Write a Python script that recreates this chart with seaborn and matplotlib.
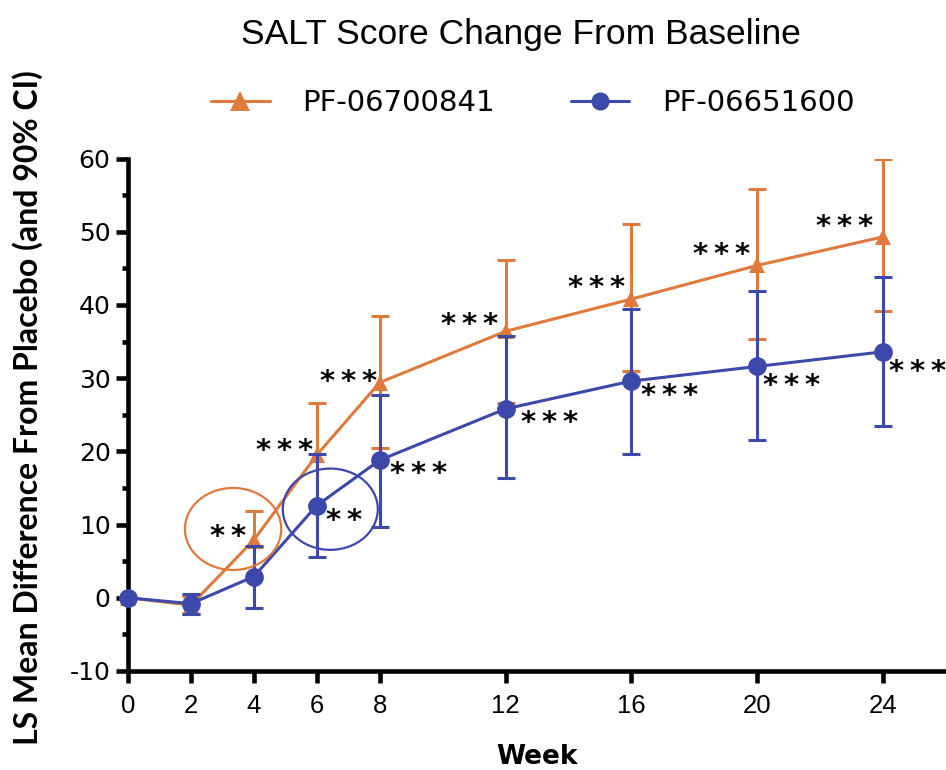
import numpy as np
import pandas as pd
import matplotlib
matplotlib.use("Agg")
import matplotlib.pyplot as plt
import seaborn as sns
from matplotlib.patches import Ellipse
from matplotlib.lines import Line2D
from matplotlib.ticker import MultipleLocator
from matplotlib import font_manager as fm

# ---------------- data ----------------
weeks = [0, 2, 4, 6, 8, 12, 16, 20, 24]
series_names = ["PF-06700841", "PF-06651600"]

pf841_mean = [0, -1.0, 7.9, 19.5, 29.4, 36.4, 40.8, 45.4, 49.3]
pf841_upper = [np.nan, 0.3, 11.9, 26.6, 38.5, 46.2, 51.1, 55.9, 59.9]
pf841_lower = [np.nan, -2.2, 7.0, 12.5, 20.4, 26.6, 31.0, 35.3, 39.2]

pf600_mean = [0, -0.8, 2.9, 12.6, 18.8, 25.8, 29.6, 31.6, 33.6]
pf600_upper = [np.nan, 0.5, 7.1, 19.6, 27.7, 35.7, 39.5, 41.9, 43.8]
pf600_lower = [np.nan, -2.2, -1.4, 5.6, 9.7, 16.3, 19.7, 21.6, 23.4]

pf841_sig = ["", "", "**", "***", "***", "***", "***", "***", "***"]
pf600_sig = ["", "", "", "**", "***", "***", "***", "***", "***"]

y_ticks = [-10, 0, 10, 20, 30, 40, 50, 60]
x_ticks = weeks

title = "SALT Score Change From Baseline"
y_label = "LS Mean Difference From Placebo (and 90% CI)"
x_label = "Week"

# ---------------- style ----------------
ORANGE = "#DF7A3C"
BLUE = "#3D48AB"

# label offsets in pixels (dx, dy up)
off841 = [None, None, (-26, 11), (-32, 12), (-31, 9), (-36, 14), (-35, 19), (-36, 18), (-39, 18)]
off600 = [None, None, None, (27, -7), (39, -6), (44, -6), (38, -7), (34, -12), (34, -12)]
STAR_SHIFT = -8  # px, compensates glyph position inside text box


def pick(names):
    for n in names:
        try:
            fm.findfont(fm.FontProperties(family=n), fallback_to_default=False)
            return n
        except Exception:
            pass
    return "DejaVu Sans"


sns.set_style("ticks")
ARIAL = pick(["Liberation Sans", "Arial"])
LABELF = pick(["Lato", "Liberation Sans Narrow", "DejaVu Sans"])
plt.rcParams["font.family"] = ["DejaVu Sans"]
for k in ["text.color", "axes.labelcolor", "xtick.color", "ytick.color", "axes.edgecolor"]:
    plt.rcParams[k] = "black"

W, H = 946, 770
fig = plt.figure(figsize=(W / 100, H / 100), dpi=100)
ax = fig.add_axes([128 / W, 1 - 671 / H, 818 / W, 512.5 / H])

df = pd.DataFrame({
    "week": weeks * 2,
    "value": pf841_mean + pf600_mean,
    "series": [series_names[0]] * len(weeks) + [series_names[1]] * len(weeks),
})

LW = 2.2
# orange series
m = np.array(pf841_mean); u = np.array(pf841_upper); l = np.array(pf841_lower)
ax.errorbar(weeks, m, yerr=[m - l, u - m], fmt="none", ecolor=ORANGE,
            elinewidth=LW, capsize=6.5, capthick=LW, zorder=3)
sns.lineplot(data=df[df.series == series_names[0]], x="week", y="value",
             color=ORANGE, marker="^", markersize=12, markeredgewidth=0,
             linewidth=LW, ax=ax, legend=False, clip_on=False, zorder=4)
# blue series
m = np.array(pf600_mean); u = np.array(pf600_upper); l = np.array(pf600_lower)
ax.errorbar(weeks, m, yerr=[m - l, u - m], fmt="none", ecolor=BLUE,
            elinewidth=LW, capsize=6.5, capthick=LW, zorder=5)
sns.lineplot(data=df[df.series == series_names[1]], x="week", y="value",
             color=BLUE, marker="o", markersize=13.5, markeredgewidth=0,
             linewidth=LW, ax=ax, legend=False, clip_on=False, zorder=6)

# significance labels
STAR_KW = dict(textcoords="offset pixels", ha="center", va="center",
               fontsize=21, fontweight="bold", color="black", zorder=7,
               annotation_clip=False)
for w, v, s, o in zip(weeks, pf841_mean, pf841_sig, off841):
    if s:
        ax.annotate("\u2009".join(s), xy=(w, v), xytext=(o[0], o[1] + STAR_SHIFT), **STAR_KW)
for w, v, s, o in zip(weeks, pf600_mean, pf600_sig, off600):
    if s:
        ax.annotate("\u2009".join(s), xy=(w, v), xytext=(o[0], o[1] + STAR_SHIFT), **STAR_KW)

# highlight ellipses
ax.add_patch(Ellipse((3.34, 9.4), 3.06, 11.2, fill=False, edgecolor=ORANGE, lw=1.6, zorder=7))
ax.add_patch(Ellipse((6.43, 12.1), 3.02, 11.1, fill=False, edgecolor=BLUE, lw=1.6, zorder=7))

# axes
ax.set_xlim(0, 26)
ax.set_ylim(-10, 60)
ax.set_xticks(x_ticks)
ax.set_xticklabels([str(t) for t in x_ticks], fontsize=18.5, family=ARIAL)
ax.set_yticks(y_ticks)
ax.set_yticklabels([str(t) for t in y_ticks], fontsize=18, family="DejaVu Sans")
ax.yaxis.set_minor_locator(MultipleLocator(5))
ax.set_xlabel("")
ax.set_ylabel("")
sns.despine(ax=ax)
for sp in ["left", "bottom"]:
    ax.spines[sp].set_linewidth(3.3)
    ax.spines[sp].set_color("black")
    ax.spines[sp].set_zorder(2.5)
ax.tick_params(axis="both", which="major", length=8.6, width=3.3, direction="out", color="black")
ax.tick_params(axis="x", which="major", pad=8)
ax.tick_params(axis="y", which="major", pad=4)
ax.tick_params(axis="y", which="minor", length=4.5, width=3.3, direction="out", color="black")
ax.patch.set_alpha(0)

# texts
fig.text(521 / W, 1 - 44 / H, title, ha="center", va="baseline", fontsize=25.5, family=ARIAL)
fig.text(537 / W, 1 - 764 / H, x_label, ha="center", va="baseline", fontsize=19,
         fontweight="bold", family="DejaVu Sans")
yl = fig.text(28 / W, 1 - 408 / H, y_label, ha="center", va="center", rotation=90,
              fontsize=20, fontweight="bold", family=LABELF)
fig.canvas.draw()
bb = yl.get_window_extent()
yl.set_fontsize(20 * 675 / bb.height)

# legend
handles = [
    Line2D([], [], color=ORANGE, marker="^", markersize=14, markeredgewidth=0, linewidth=LW),
    Line2D([], [], color=BLUE, marker="o", markersize=13, markeredgewidth=0, linewidth=LW),
]
fig.legend(handles, series_names, loc="center", bbox_to_anchor=(533 / W, 1 - 103 / H),
           ncol=2, frameon=False, fontsize=21, handlelength=2.0, handletextpad=1.13,
           columnspacing=2.6, borderpad=0, borderaxespad=0)

fig.savefig("out.png", dpi=100)
